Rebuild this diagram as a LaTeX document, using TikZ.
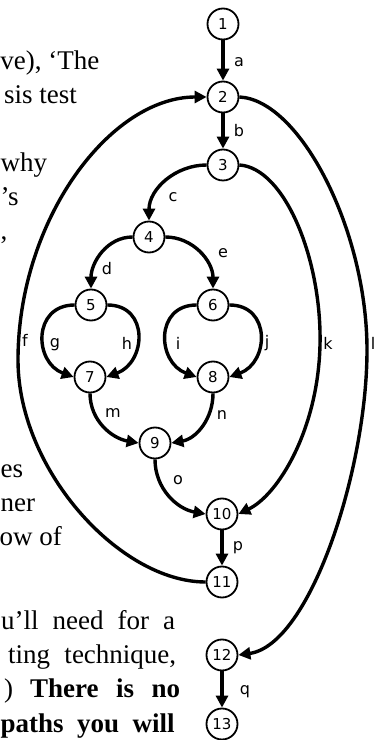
\documentclass[tikz,border=0pt]{standalone}
\usepackage{fontspec}
\setmainfont{Liberation Serif}
\newfontfamily\labfont{DejaVu Sans}
\usetikzlibrary{arrows.meta}
\begin{document}
\begin{tikzpicture}[x=1pt,y=1pt,
  vtx/.style={circle,draw,line width=1.8pt,minimum size=31pt,inner sep=0pt,font=\labfont\fontsize{15}{15}\selectfont},
  sedge/.style={line width=4.2pt,-{Triangle[length=12pt,width=12pt]}},
  cedge/.style={line width=3.4pt,-{Triangle[length=12pt,width=12pt]}},
  pedge/.style={line width=3.4pt},
  lab/.style={font=\labfont\fontsize{16}{16}\selectfont,inner sep=0pt},
  para/.style={font=\fontsize{27}{27}\selectfont,inner sep=0pt,anchor=base east},
  parw/.style={font=\fontsize{27}{27}\selectfont,inner sep=0pt,anchor=base west}]
\useasboundingbox (0,0) rectangle (379,740);
% text fragments of the page
\node[para] (t1) at (99.5,670) {ve), ‘The};
\node[para] (t2) at (77,636) {sis test};
\node[parw] (t3) at (0.5,568) {why};
\node[parw] (t4) at (0.5,534) {’s};
\node[parw] (t5) at (0.5,500) {,};
\node[parw] (t6) at (0.5,262) {es};
\node[parw] (t7) at (0.5,228) {ner};
\node[para] (t8) at (62,194) {ow of};
\node[parw] (t9) at (1,110) {\makebox[174pt][s]{u’ll need for a}};
\node[parw] (t10) at (8,76) {\makebox[168pt][s]{ting technique,}};
\node[parw] (t11) at (4,42) {)};
\node[parw] (t12) at (30,42) {\makebox[150pt][s]{\bfseries There is no}};
\node[parw] (t13) at (0.5,8) {\makebox[174pt][s]{\bfseries paths you will}};
% vertices
\node[vtx] (n1) at (223,716) {1};
\node[vtx] (n2) at (223,643) {2};
\node[vtx] (n3) at (223,575) {3};
\node[vtx] (n4) at (149,503) {4};
\node[vtx] (n5) at (91,435) {5};
\node[vtx] (n6) at (213,435) {6};
\node[vtx] (n7) at (90,363) {7};
\node[vtx] (n8) at (213,363) {8};
\node[vtx] (n9) at (155,297) {9};
\node[vtx] (n10) at (222,226) {10};
\node[vtx] (n11) at (222,158) {11};
\node[vtx] (n12) at (222,85) {12};
\node[vtx] (n13) at (222,16) {13};
\coordinate (kmid) at (320,395);
\coordinate (lmid) at (367,390);
\coordinate (fmid) at (18,380);
% edges
\draw[sedge] (n1) -- (n2);
\draw[sedge] (n2) -- (n3);
\draw[cedge] (n3.west) to[out=180,in=90] (n4.north);
\draw[cedge] (n4.west) to[out=180,in=90] (n5.north);
\draw[cedge] (n4.east) to[out=0,in=90] (n6.north);
\draw[cedge] (n5.west) to[out=180,in=160,looseness=1.5] (n7.west);
\draw[cedge] (n5.east) to[out=0,in=20,looseness=1.5] (n7.east);
\draw[cedge] (n6.west) to[out=180,in=160,looseness=1.5] (n8.west);
\draw[cedge] (n6.east) to[out=0,in=20,looseness=1.5] (n8.east);
\draw[cedge] (n7.south) to[out=-90,in=170] (n9.west);
\draw[cedge] (n8.south) to[out=-90,in=10] (n9.east);
\draw[cedge] (n9.south) to[out=-90,in=170] (n10.west);
\draw[pedge] (n3.east) .. controls (285,572) and (322,480) .. (kmid);
\draw[cedge] (kmid) .. controls (318,310) and (278,245) .. (n10.east);
\draw[pedge] (n2.east) .. controls (300,640) and (367,510) .. (lmid);
\draw[cedge] (lmid) .. controls (367,270) and (310,95) .. (n12.east);
\draw[pedge] (n11.west) .. controls (120,158) and (18,270) .. (fmid);
\draw[cedge] (fmid) .. controls (18,520) and (110,643) .. (n2.west);
\draw[sedge] (n10) -- (n11);
\draw[sedge] (n12) -- (n13);
% edge labels
\node[lab] (la) at (239,678) {a};
\node[lab] (lb) at (239,609) {b};
\node[lab] (lc) at (173,543) {c};
\node[lab] (ld) at (107,471) {d};
\node[lab] (le) at (223,487) {e};
\node[lab] (lf) at (25,400) {f};
\node[lab] (lg) at (55,395) {g};
\node[lab] (lh) at (127,397) {h};
\node[lab] (li) at (178,397) {i};
\node[lab] (lj) at (267,397) {j};
\node[lab] (lk) at (328,397) {k};
\node[lab] (ll) at (373,397) {l};
\node[lab] (lm) at (113,327) {m};
\node[lab] (ln) at (222,325) {n};
\node[lab] (lo) at (178,260) {o};
\node[lab] (lp) at (238,192) {p};
\node[lab] (lq) at (245,48) {q};
\end{tikzpicture}
\end{document}
